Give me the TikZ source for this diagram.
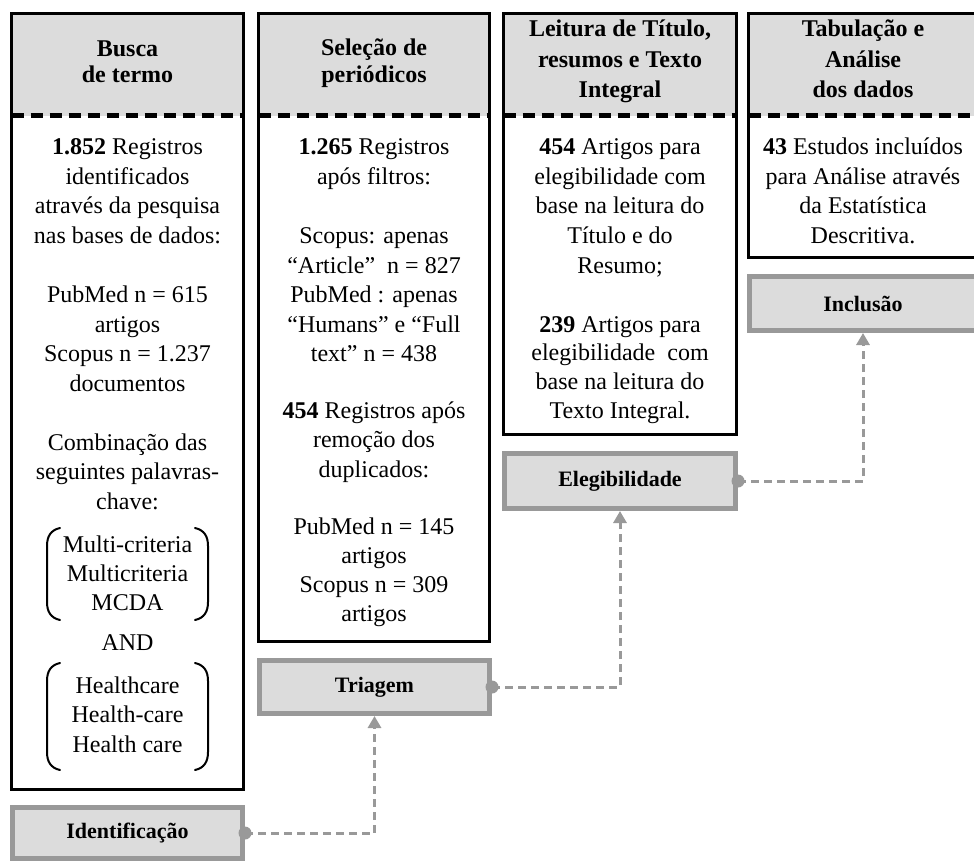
\documentclass[tikz,border=0pt]{standalone}
\usepackage{fontspec}
\setmainfont{Liberation Serif}
\usetikzlibrary{arrows.meta}
\definecolor{hdrfill}{HTML}{DCDCDC}
\definecolor{gborder}{HTML}{999999}
\begin{document}
\begin{tikzpicture}[x=1pt,y=-1pt,
  colbox/.style={draw=black, line width=3pt, inner sep=0pt, outer sep=0pt},
  hdrsep/.style={line width=5pt, dash pattern=on 12pt off 7pt},
  stagebox/.style={draw=gborder, fill=hdrfill, line width=5pt, inner sep=0pt, outer sep=2.5pt,
     font=\bfseries\fontsize{22}{26}\selectfont},
  conn/.style={draw=gborder, line width=3pt, dash pattern=on 8pt off 5pt,
     -{Triangle[width=13pt,length=12pt]}},
  body/.style={anchor=base, inner sep=0pt, font=\fontsize{24}{29.5}\selectfont},
  head/.style={anchor=base, inner sep=0pt, font=\bfseries\fontsize{24}{29}\selectfont},
  brk/.style={line width=2pt, line cap=round}
]
\useasboundingbox (0,0) rectangle (974,861);
\clip (0,0) rectangle (974,861);

% header fills
\fill[hdrfill] (11.5,13.5) rectangle (243.5,116);
\fill[hdrfill] (258.5,13.5) rectangle (489.5,116);
\fill[hdrfill] (503.5,13.5) rectangle (736.5,116);
\fill[hdrfill] (748.5,13.5) rectangle (977.5,116);

% column boxes
\node[colbox, minimum width=232pt, minimum height=776pt] (c1) at (127.5,401.5) {};
\node[colbox, minimum width=231pt, minimum height=628pt] (c2) at (374,327.5) {};
\node[colbox, minimum width=233pt, minimum height=421pt] (c3) at (620,224) {};
\node[colbox, minimum width=229pt, minimum height=244pt] (c4) at (863,135.5) {};

\coordinate (hy) at (0,116);
\draw[hdrsep] (c1.west |- hy) -- (c1.east |- hy);
\draw[hdrsep] (c2.west |- hy) -- (c2.east |- hy);
\draw[hdrsep] (c3.west |- hy) -- (c3.east |- hy);
\draw[hdrsep] (c4.west |- hy) -- (c4.east |- hy);

% headers
\node[head] (h1a) at (127.5,57) {Busca};
\node[head] (h1b) at (127.5,83) {de termo};
\node[head] (h2a) at (374,56) {Seleção de};
\node[head] (h2b) at (374,83) {periódicos};
\node[head] (h3a) at (620,37) {Leitura de Título,};
\node[head] (h3b) at (620,68) {resumos e Texto};
\node[head] (h3c) at (620,98) {Integral};
\node[head] (h4a) at (863,37) {Tabulação e};
\node[head] (h4b) at (863,68) {Análise};
\node[head] (h4c) at (863,98) {dos dados};

% column 1 body
\foreach \yy/\txt [count=\i] in {
  155/{\textbf{1.852} Registros},
  184.5/{identificados},
  214/{através da pesquisa},
  243.5/{nas bases de dados:},
  302.5/{PubMed n = 615},
  332/{artigos},
  361.5/{Scopus n = 1.237},
  391/{documentos},
  450/{Combinação das},
  479.5/{seguintes palavras-},
  509/{chave:},
  552/{Multi-criteria},
  581/{Multicriteria},
  610/{MCDA},
  650/{AND},
  693/{Healthcare},
  722.5/{Health-care},
  752/{Health care}}
  \node[body] (a\i) at (127.5,\yy) {\txt};

% brackets
\draw[brk] (60,528) .. controls (51,530) and (47,536) .. (47,546) -- (47,602) .. controls (47,612) and (51,618) .. (60,620);
\draw[brk] (195,528) .. controls (204,530) and (208,536) .. (208,546) -- (208,602) .. controls (208,612) and (204,618) .. (195,620);
\draw[brk] (60,663) .. controls (51,665) and (47,671) .. (47,681) -- (47,752) .. controls (47,762) and (51,768) .. (60,770);
\draw[brk] (195,663) .. controls (204,665) and (208,671) .. (208,681) -- (208,752) .. controls (208,762) and (204,768) .. (195,770);

% column 2 body
\foreach \yy/\txt [count=\i] in {
  155/{\textbf{1.265} Registros},
  184.5/{após filtros:},
  243.5/{Scopus: apenas},
  273/{“Article”\ \ n = 827},
  302.5/{PubMed : apenas},
  332/{“Humans” e “Full},
  361/{text” n = 438},
  418/{\textbf{454} Registros após},
  447.5/{remoção dos},
  477/{duplicados:},
  534/{PubMed n = 145},
  563/{artigos},
  592/{Scopus n = 309},
  621/{artigos}}
  \node[body] (b\i) at (374,\yy) {\txt};

% column 3 body
\foreach \yy/\txt [count=\i] in {
  155/{\textbf{454} Artigos para},
  184.5/{elegibilidade com},
  213.5/{base na leitura do},
  243/{Título e do},
  273/{Resumo;},
  332/{\textbf{239} Artigos para},
  360.5/{elegibilidade\ \ com},
  389/{base na leitura do},
  418/{Texto Integral.}}
  \node[body] (d\i) at (620,\yy) {\txt};

% column 4 body
\foreach \yy/\txt [count=\i] in {
  155/{\textbf{43} Estudos incluídos},
  184.5/{para Análise através},
  214/{da Estatística},
  243.5/{Descritiva.}}
  \node[body] (e\i) at (863,\yy) {\txt};

% stage boxes
\node[stagebox, minimum width=230pt, minimum height=51pt] (ident) at (127.5,833) {Identificação};
\node[stagebox, minimum width=230pt, minimum height=53pt] (triagem) at (374.5,687) {Triagem};
\node[stagebox, minimum width=231pt, minimum height=55pt] (eleg) at (620,481) {Elegibilidade};
\node[stagebox, minimum width=227pt, minimum height=54pt] (incl) at (863,303.5) {Inclusão};

% connectors
\draw[conn] (ident.east) -| (triagem.south);
\draw[conn] (triagem.east) -| (eleg.south);
\draw[conn] (eleg.east) -| (incl.south);
\fill[gborder] (ident.east) circle (6.5pt);
\fill[gborder] (triagem.east) circle (6.5pt);
\fill[gborder] (eleg.east) circle (6.5pt);
\end{tikzpicture}
\end{document}
